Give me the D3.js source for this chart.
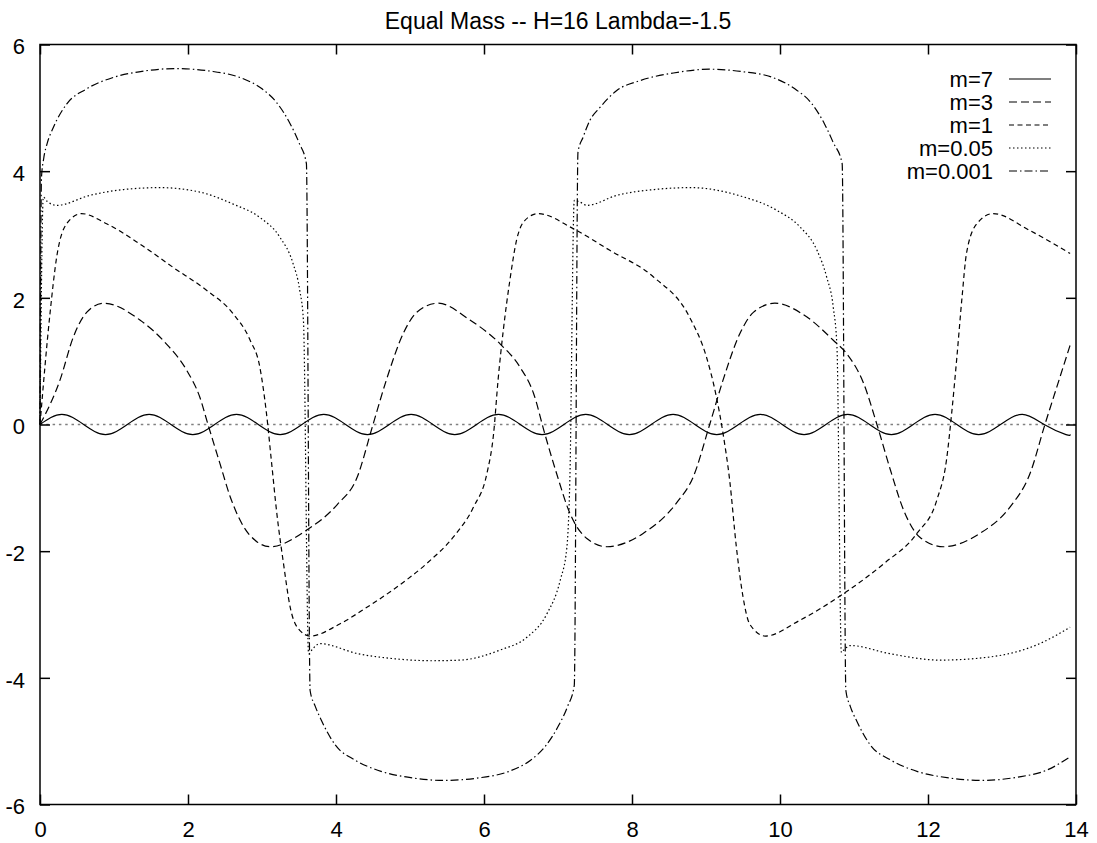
<!DOCTYPE html>
<html>
<head>
<meta charset="utf-8">
<script src="https://cdnjs.cloudflare.com/ajax/libs/d3/7.8.5/d3.min.js"></script>
<style>
    body { margin: 0; background: #fff; }
    svg { display: block; font-family: "Liberation Sans", Arial, Helvetica, sans-serif; }
    .frame { fill: none; stroke: #000; stroke-width: 1.5; }
    .curve { fill: none; stroke: #000; stroke-width: 1.2; }
    .tick line { stroke: #000; stroke-width: 1.5; }
    .tick text { font-size: 22px; fill: #000; }
</style>
</head>
<body>
<div id="chart"></div>
<script>
/*
 * Chart data.
 */
var titleText = 'Equal Mass -- H=16 Lambda=-1.5';
var xTicks = [0, 2, 4, 6, 8, 10, 12, 14];
var yTicks = [-6, -4, -2, 0, 2, 4, 6];
var seriesNames = ['m=7', 'm=3', 'm=1', 'm=0.05', 'm=0.001'];

var m7 = [
    [0, 0], [0.295, 0.16], [0.59, 0], [0.885, -0.16], [1.18, 0], [1.475, 0.16], [1.77, 0], [2.065, -0.16],
    [2.36, 0], [2.655, 0.16], [2.95, 0], [3.245, -0.16], [3.54, 0], [3.835, 0.16], [4.13, 0], [4.425, -0.16],
    [4.72, 0], [5.015, 0.16], [5.31, 0], [5.605, -0.16], [5.9, 0], [6.195, 0.16], [6.49, 0], [6.785, -0.16],
    [7.08, 0], [7.375, 0.16], [7.67, 0], [7.965, -0.16], [8.26, 0], [8.555, 0.16], [8.85, 0], [9.145, -0.16],
    [9.44, 0], [9.735, 0.16], [10.03, 0], [10.325, -0.16], [10.62, 0], [10.915, 0.16], [11.21, 0], [11.505, -0.16],
    [11.8, 0], [12.095, 0.16], [12.39, 0], [12.685, -0.16], [12.98, 0], [13.275, 0.16], [13.57, 0], [13.865, -0.16],
    [13.92, -0.155]
];

var m3 = [
    [0, 0], [0.27, 0.70], [0.45, 1.38], [0.63, 1.77], [0.86, 1.915], [1.35, 1.65], [1.71, 1.27], [1.98, 0.86],
    [2.16, 0.43], [2.27, 0], [2.43, -0.61], [2.57, -1.14], [2.75, -1.61], [2.93, -1.85], [3.11, -1.93],
    [3.60, -1.67], [4.02, -1.26], [4.28, -0.85], [4.5, 0], [4.68, 0.70], [4.91, 1.44], [5.09, 1.77], [5.38, 1.915],
    [5.81, 1.65], [6.22, 1.27], [6.49, 0.9], [6.67, 0.49], [6.82, -0.14], [6.98, -0.77], [7.16, -1.4],
    [7.39, -1.80], [7.66, -1.93], [8.15, -1.72], [8.6, -1.24], [8.83, -0.82], [9.05, 0], [9.23, 0.70],
    [9.46, 1.44], [9.64, 1.77], [9.93, 1.915], [10.36, 1.70], [10.72, 1.33], [10.9, 1.12], [11.13, 0.65],
    [11.31, 0], [11.49, -0.71], [11.67, -1.35], [11.89, -1.78], [12.21, -1.93], [12.7, -1.72], [13.11, -1.30],
    [13.38, -0.77], [13.58, 0], [13.74, 0.59], [13.92, 1.25]
];

var m1 = [
    [0, 0], [0.135, 1.75], [0.225, 2.64], [0.36, 3.17], [0.56, 3.33], [0.9, 3.17], [1.35, 2.85], [1.80, 2.48],
    [2.25, 2.12], [2.61, 1.75], [2.84, 1.33], [2.97, 0.91], [3.06, 0.18], [3.13, -0.61], [3.20, -1.40],
    [3.29, -2.19], [3.38, -2.88], [3.51, -3.25], [3.65, -3.34], [4.05, -3.15], [4.4, -2.9], [4.77, -2.61],
    [5.23, -2.19], [5.59, -1.77], [5.86, -1.30], [6.04, -0.77], [6.13, -0.14], [6.19, 0.70], [6.26, 1.48],
    [6.35, 2.28], [6.44, 2.91], [6.55, 3.22], [6.73, 3.33], [7.21, 3.09], [7.70, 2.75], [8.29, 2.33],
    [8.78, 1.69], [9.01, 1.05], [9.14, 0.44], [9.23, -0.14], [9.32, -0.88], [9.41, -1.93], [9.50, -2.72],
    [9.59, -3.15], [9.80, -3.34], [10.27, -3.09], [10.86, -2.67], [11.40, -2.2], [11.85, -1.72], [12.12, -1.19],
    [12.25, -0.56], [12.32, 0.18], [12.39, 1.06], [12.46, 2.01], [12.52, 2.70], [12.66, 3.17], [12.88, 3.33],
    [13.38, 3.06], [13.92, 2.70]
];

var m005 = [
    [0, 0], [0.045, 3.59], [0.1, 3.52], [0.225, 3.46], [0.68, 3.62], [1.13, 3.71], [1.62, 3.74], [2.16, 3.67],
    [2.61, 3.48], [2.97, 3.27], [3.24, 2.96], [3.42, 2.54], [3.51, 2.12], [3.56, 1.64], [3.63, -3.62],
    [3.68, -3.55], [3.78, -3.46], [4.3, -3.62], [4.8, -3.70], [5.3, -3.73], [5.68, -3.72], [6.22, -3.56],
    [6.58, -3.36], [6.85, -2.99], [7.03, -2.46], [7.12, -1.94], [7.16, -0.88], [7.22, 3.54], [7.30, 3.51],
    [7.39, 3.46], [7.8, 3.62], [8.3, 3.71], [8.8, 3.74], [9.46, 3.61], [9.96, 3.38], [10.27, 3.12],
    [10.50, 2.75], [10.63, 2.33], [10.72, 1.85], [10.77, 1.22], [10.83, -3.6], [10.87, -3.55], [10.95, -3.49],
    [11.49, -3.62], [12.16, -3.72], [12.84, -3.67], [13.51, -3.46], [13.92, -3.2]
];

var m0001 = [
    [0, 0], [0.02, 3.9], [0.05, 4.2], [0.1, 4.45], [0.18, 4.69], [0.36, 5.06], [0.63, 5.30], [0.99, 5.48],
    [1.4, 5.58], [1.82, 5.62], [2.3, 5.58], [2.7, 5.48], [3.0, 5.3], [3.2, 5.08], [3.38, 4.75], [3.5, 4.45],
    [3.6, 4.12], [3.65, -4.2], [3.72, -4.45], [3.81, -4.69], [3.99, -5.06], [4.26, -5.30], [4.62, -5.48],
    [5.03, -5.58], [5.45, -5.62], [5.93, -5.58], [6.33, -5.48], [6.63, -5.3], [6.83, -5.08], [7.01, -4.75],
    [7.13, -4.45], [7.22, -4.12], [7.27, 4.3], [7.34, 4.54], [7.43, 4.80], [7.57, 5.01], [7.79, 5.27],
    [8.11, 5.43], [8.56, 5.55], [9.05, 5.61], [9.5, 5.57], [9.9, 5.48], [10.2, 5.3], [10.42, 5.08],
    [10.6, 4.75], [10.72, 4.45], [10.84, 4.12], [10.89, -4.2], [10.95, -4.45], [11.04, -4.69], [11.22, -5.06],
    [11.5, -5.30], [11.86, -5.48], [12.28, -5.58], [12.74, -5.62], [13.2, -5.57], [13.6, -5.46], [13.92, -5.25]
];

var seriesData = [m7, m3, m1, m005, m0001];

/*
 * Line styles, one for each series.
 */
var dashes = ['none', '8,4', '5,3.5', '1.5,2.5', '8,3,1.5,3'];

/*
 * Dimensions.
 */
var width = 1097, height = 843;
var plot = { left: 40, top: 44.5, right: 1076, bottom: 804.5 };

var svg = d3.select('#chart').append('svg')
    .attr('width', width)
    .attr('height', height);

var x = d3.scaleLinear().domain([0, 14]).range([plot.left, plot.right]);
var y = d3.scaleLinear().domain([-6, 6]).range([plot.bottom, plot.top]);

/*
 * Plain hyphen minus, as in the original labels.
 */
var tickLabel = d => String(d);

/*
 * Zero axis.
 */
svg.append('line')
    .attr('x1', x(0)).attr('x2', x(14))
    .attr('y1', y(0)).attr('y2', y(0))
    .attr('stroke', '#808080')
    .attr('stroke-width', 1.6)
    .attr('stroke-dasharray', '2.5,3.8');

/*
 * Axes with inward ticks on all four sides.
 */
svg.append('g')
    .attr('transform', 'translate(0,' + plot.bottom + ')')
    .call(d3.axisBottom(x).tickValues(xTicks).tickFormat(tickLabel)
        .tickSizeInner(-10).tickSizeOuter(0).tickPadding(17))
    .call(g => g.select('.domain').remove());

svg.append('g')
    .attr('transform', 'translate(0,' + plot.top + ')')
    .call(d3.axisTop(x).tickValues(xTicks).tickSizeInner(-10).tickSizeOuter(0).tickFormat(''))
    .call(g => g.select('.domain').remove());

svg.append('g')
    .attr('transform', 'translate(' + plot.left + ',0)')
    .call(d3.axisLeft(y).tickValues(yTicks).tickFormat(tickLabel)
        .tickSizeInner(-10).tickSizeOuter(0).tickPadding(15))
    .call(g => g.select('.domain').remove())
    .selectAll('text').attr('dy', '0.42em');

svg.append('g')
    .attr('transform', 'translate(' + plot.right + ',0)')
    .call(d3.axisRight(y).tickValues(yTicks).tickSizeInner(-10).tickSizeOuter(0).tickFormat(''))
    .call(g => g.select('.domain').remove());

svg.selectAll('.tick text').attr('font-family', null).attr('font-size', null);

svg.append('rect')
    .attr('class', 'frame')
    .attr('x', plot.left).attr('y', plot.top)
    .attr('width', plot.right - plot.left)
    .attr('height', plot.bottom - plot.top);

/*
 * Curves.
 */
var line = d3.line()
    .x(d => x(d[0]))
    .y(d => y(d[1]));

svg.selectAll('path.curve')
    .data(seriesData)
    .enter().append('path')
    .attr('class', 'curve')
    .attr('d', (d, i) => line.curve(i === 0 ? d3.curveNatural : d3.curveMonotoneX)(d))
    .attr('stroke-dasharray', (d, i) => dashes[i]);

/*
 * Title.
 */
svg.append('text')
    .attr('x', (plot.left + plot.right) / 2)
    .attr('y', 29)
    .attr('text-anchor', 'middle')
    .attr('font-size', 23)
    .text(titleText);

/*
 * Legend.
 */
var legend = svg.append('g').selectAll('g')
    .data(seriesNames)
    .enter().append('g')
    .attr('transform', (d, i) => 'translate(0,' + (79 + 23 * i) + ')');

legend.append('text')
    .attr('x', 993)
    .attr('dy', '0.36em')
    .attr('text-anchor', 'end')
    .attr('font-size', 22)
    .text(d => d);

legend.append('line')
    .attr('x1', 1009).attr('x2', 1051)
    .attr('stroke', '#000')
    .attr('stroke-width', 1.2)
    .attr('stroke-dasharray', (d, i) => dashes[i]);
</script>
</body>
</html>
